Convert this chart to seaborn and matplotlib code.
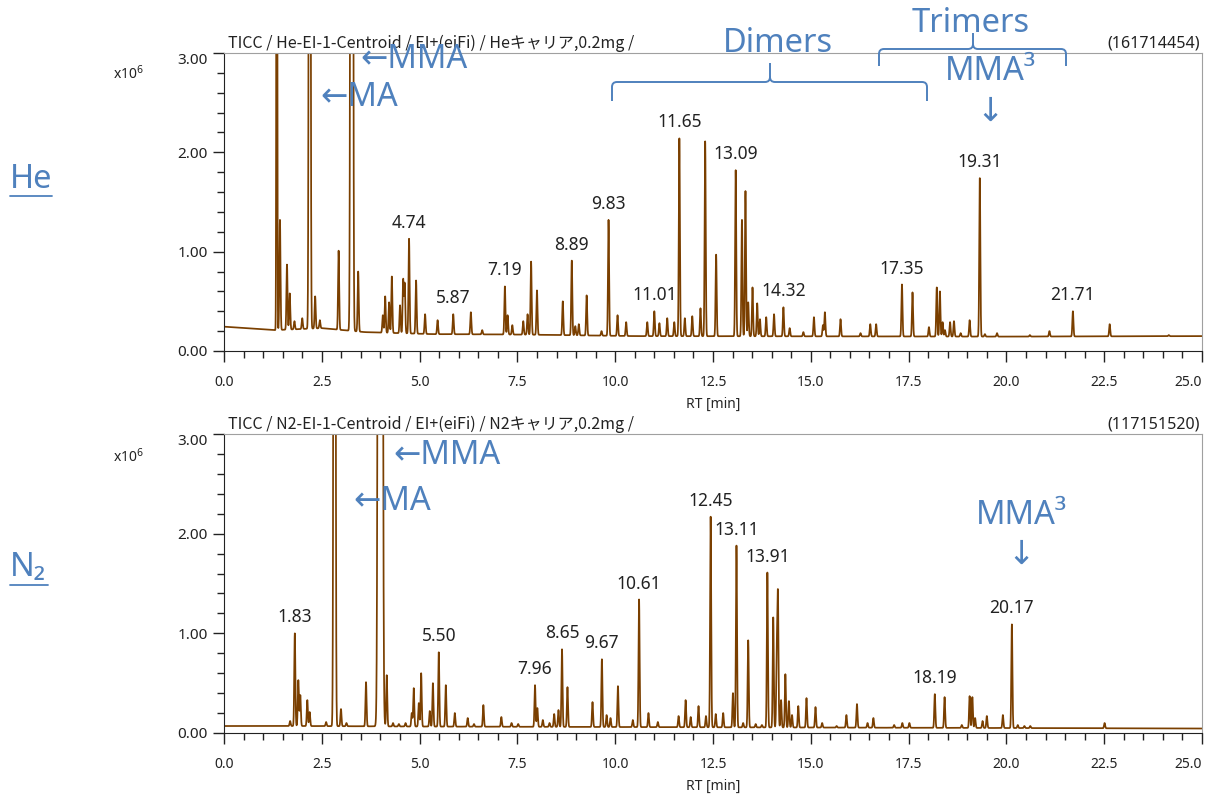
import numpy as np
import matplotlib
matplotlib.use('Agg')
import matplotlib.pyplot as plt
from matplotlib.lines import Line2D
from matplotlib.path import Path
from matplotlib.patches import PathPatch
import seaborn as sns

sns.set_style('ticks')
plt.rcParams['font.family'] = ['Noto Sans', 'Noto Sans CJK JP', 'DejaVu Sans']

# --- data (RT in min, intensity in x10^6) ---
# He carrier
he_base_rt = [0, 1.3, 2.5, 3.6, 5.3, 7.7, 10.5, 20, 25]
he_base_i = [0.245, 0.21, 0.23, 0.19, 0.17, 0.165, 0.15, 0.145, 0.15]
he_rt = [1.43, 1.61, 1.68, 1.80, 2.00, 2.33, 2.45, 2.93, 3.43, 4.06, 4.12, 4.22, 4.29,
         4.50, 4.58, 4.62, 4.73, 4.91, 5.14, 5.46, 5.86, 6.31, 6.60, 7.18, 7.25, 7.37,
         7.65, 7.76, 7.85, 8.00, 8.66, 8.89, 8.98, 9.07, 9.27, 9.65, 9.83, 10.06, 10.28,
         10.82, 11.00, 11.13, 11.33, 11.51, 11.64, 11.78, 11.97, 12.18, 12.30, 12.58,
         13.08, 13.24, 13.33, 13.40, 13.51, 13.63, 13.70, 13.86, 14.06, 14.30, 14.46,
         14.81, 15.08, 15.31, 15.36, 15.76, 16.27, 16.52, 16.67, 17.33, 17.60, 18.02,
         18.22, 18.30, 18.37, 18.43, 18.56, 18.66, 18.83, 19.06, 19.32, 19.45, 19.76,
         20.60, 21.10, 21.70, 22.64, 24.15]
he_int = [1.32, 0.87, 0.58, 0.30, 0.33, 0.55, 0.31, 1.01, 0.80, 0.36, 0.55, 0.49, 0.75,
          0.46, 0.72, 0.68, 1.13, 0.71, 0.37, 0.31, 0.37, 0.39, 0.21, 0.65, 0.36, 0.26,
          0.30, 0.37, 0.90, 0.61, 0.50, 0.91, 0.25, 0.27, 0.56, 0.20, 1.32, 0.36, 0.29,
          0.29, 0.40, 0.28, 0.33, 0.29, 2.14, 0.33, 0.35, 0.43, 2.11, 0.97,
          1.82, 1.32, 1.61, 0.49, 0.64, 0.48, 0.32, 0.34, 0.37, 0.44, 0.23,
          0.19, 0.34, 0.26, 0.39, 0.32, 0.18, 0.27, 0.27, 0.67, 0.59, 0.24,
          0.64, 0.60, 0.29, 0.21, 0.29, 0.30, 0.18, 0.31, 1.74, 0.17, 0.18,
          0.16, 0.20, 0.40, 0.27, 0.16]
# off-scale peaks: solvent, MA, MMA
he_big_rt = [1.35, 2.19, 3.265]
he_big_int = [10.0, 15.0, 40.0]
he_big_sig = [0.010, 0.017, 0.020]
he_labels = [4.74, 5.87, 7.19, 8.89, 9.83, 11.01, 11.65, 13.09, 14.32, 17.35, 19.31, 21.71]

# N2 carrier
n2_base_rt = [0, 2, 5, 10, 15, 20, 25]
n2_base_i = [0.07, 0.07, 0.065, 0.06, 0.055, 0.05, 0.045]
n2_rt = [1.69, 1.81, 1.90, 1.95, 2.13, 2.19, 2.61, 2.99, 3.13, 3.63, 4.16, 4.32, 4.47,
         4.64, 4.80, 4.85, 4.98, 5.04, 5.26, 5.34, 5.49, 5.67, 5.90, 6.23, 6.39, 6.63,
         7.09, 7.35, 7.52, 7.95, 8.01, 8.15, 8.32, 8.44, 8.55, 8.64, 8.78, 9.42, 9.66,
         9.78, 9.88, 10.07, 10.45, 10.61, 10.85, 11.09, 11.62, 11.80, 11.93, 12.13,
         12.32, 12.44, 12.57, 12.76, 13.01, 13.10, 13.27, 13.40, 13.59, 13.75, 13.89,
         14.04, 14.13, 14.16, 14.24, 14.35, 14.44, 14.52, 14.68, 14.89, 15.12, 15.29,
         15.66, 15.91, 16.18, 16.45, 16.60, 17.13, 17.34, 17.52, 18.17, 18.42, 18.86,
         19.06, 19.13, 19.20, 19.39, 19.50, 19.91, 20.14, 20.29, 20.46, 20.61, 22.51]
n2_int = [0.12, 1.00, 0.53, 0.38, 0.33, 0.21, 0.11, 0.24, 0.10, 0.51, 0.58, 0.10, 0.09,
          0.10, 0.20, 0.45, 0.30, 0.60, 0.22, 0.50, 0.81, 0.48, 0.20, 0.15, 0.09, 0.28,
          0.16, 0.10, 0.09, 0.48, 0.25, 0.13, 0.10, 0.19, 0.23, 0.84, 0.46, 0.31, 0.74,
          0.18, 0.15, 0.47, 0.13, 1.34, 0.20, 0.11, 0.17, 0.33, 0.16, 0.27,
          0.17, 2.17, 0.19, 0.20, 0.40, 1.88, 0.10, 0.93, 0.09, 0.08, 1.61,
          1.16, 0.78, 1.36, 0.33, 0.59, 0.32, 0.18, 0.27, 0.35, 0.26, 0.10,
          0.07, 0.18, 0.29, 0.10, 0.15, 0.08, 0.10, 0.10, 0.39, 0.36, 0.08,
          0.37, 0.36, 0.15, 0.12, 0.17, 0.18, 1.09, 0.08, 0.07, 0.07, 0.10]
n2_big_rt = [2.825, 3.995]
n2_big_int = [20.0, 60.0]
n2_big_sig = [0.018, 0.031]
n2_labels = [1.83, 5.50, 7.96, 8.65, 9.67, 10.61, 12.45, 13.11, 13.91, 18.19, 20.17]

LINE = '#7a3f00'
BLUE = '#4f81bd'
W, H = 1210, 795


def build_trace(base_rt, base_i, rt, inten, big_rt, big_int, big_sig, sig=0.014):
    x = np.arange(0, 25.0001, 0.002)
    base = np.interp(x, base_rt, base_i)
    y = base.copy()
    for r, h in zip(rt, inten):
        amp = h - np.interp(r, base_rt, base_i)
        y += amp * np.exp(-0.5 * ((x - r) / sig) ** 2)
    for r, h, s in zip(big_rt, big_int, big_sig):
        y += h * np.exp(-0.5 * ((x - r) / s) ** 2)
    return x, y


def fx(px):
    return px / W


def fy(py):
    return 1 - py / H


fig = plt.figure(figsize=(12.1, 7.95), dpi=100)
ax_he = fig.add_axes([fx(224), fy(351), fx(1202) - fx(224), fy(53) - fy(351)])
ax_n2 = fig.add_axes([fx(224), fy(733), fx(1202) - fx(224), fy(434) - fy(733)])

panels = [
    (ax_he, he_base_rt, he_base_i, he_rt, he_int, he_big_rt, he_big_int, he_big_sig, he_labels,
     'TICC / He-EI-1-Centroid / EI+(eiFi) / Heキャリア,0.2mg /', '(161714454)'),
    (ax_n2, n2_base_rt, n2_base_i, n2_rt, n2_int, n2_big_rt, n2_big_int, n2_big_sig, n2_labels,
     'TICC / N2-EI-1-Centroid / EI+(eiFi) / N2キャリア,0.2mg /', '(117151520)'),
]

for ax, brt, bi, rt, inten, big_rt, big_int, big_sig, labels, title, total in panels:
    x, y = build_trace(brt, bi, rt, inten, big_rt, big_int, big_sig)
    sns.lineplot(x=x, y=y, ax=ax, color=LINE, linewidth=1.25, estimator=None, sort=False)
    ax.set_xlim(0, 25)
    ax.set_ylim(0, 3.0)
    ax.set_xticks(np.arange(0, 25.01, 2.5))
    ax.set_xticks(np.arange(0, 25.01, 0.5), minor=True)
    ax.set_yticks([0, 1, 2, 3])
    ax.set_yticks(np.arange(0, 3.01, 0.2), minor=True)
    ax.set_xticklabels([f'{v:.1f}' for v in np.arange(0, 25.01, 2.5)], fontsize=10)
    ax.get_xticklabels()[-1].set_ha('right')
    ax.set_yticklabels(['0.00', '1.00', '2.00', '3.00'], fontsize=11)
    ax.get_yticklabels()[-1].set_va('top')
    ax.tick_params(axis='both', which='major', length=8, width=1, direction='out', colors='#222222')
    ax.tick_params(axis='both', which='minor', length=5, width=1, direction='out', colors='#222222')
    ax.tick_params(axis='x', which='major', pad=9)
    for s in ['top', 'right']:
        ax.spines[s].set_color('#a0a0a0')
    for s in ['left', 'bottom']:
        ax.spines[s].set_color('#222222')
    ax.set_xlabel('RT [min]', fontsize=10, labelpad=5)
    ax.set_ylabel('')
    ax.text(0.004, 1.004, title, transform=ax.transAxes, ha='left', va='bottom',
            fontsize=11.5, family=['Noto Sans CJK JP'], color='#222222')
    ax.text(0.998, 1.004, total, transform=ax.transAxes, ha='right', va='bottom',
            fontsize=11.5, color='#222222')
    # peak labels at the local maxima of the trace
    for lab in labels:
        win = (x > lab - 0.06) & (x < lab + 0.06)
        k = np.argmax(y[win])
        ax.annotate(f'{lab:.2f}', (x[win][k], y[win][k]), xytext=(0, 5),
                    textcoords='offset points', ha='center', va='bottom',
                    fontsize=12.5, color='#222222')

# exponent labels
for py in [74, 457]:
    fig.text(fx(113), fy(py), 'x10$^{6}$', fontsize=10, ha='left', va='center', color='#222222')

# blue annotations
blue_kw = dict(color=BLUE, fontsize=23.5, family=['Noto Sans', 'DejaVu Sans'])
fig.text(fx(360), fy(60), '←MMA', ha='left', va='center', **blue_kw)
fig.text(fx(320), fy(98), '←MA', ha='left', va='center', **blue_kw)
fig.text(fx(778), fy(44), 'Dimers', ha='center', va='center', **blue_kw)
fig.text(fx(971), fy(23), 'Trimers', ha='center', va='center', **blue_kw)
fig.text(fx(990), fy(72), 'MMA³', ha='center', va='center', **blue_kw)
fig.text(fx(990), fy(112), '↓', ha='center', va='center', **blue_kw)
fig.text(fx(393), fy(456), '←MMA', ha='left', va='center', **blue_kw)
fig.text(fx(353), fy(502), '←MA', ha='left', va='center', **blue_kw)
fig.text(fx(1021), fy(515), 'MMA³', ha='center', va='center', **blue_kw)
fig.text(fx(1021), fy(555), '↓', ha='center', va='center', **blue_kw)

# carrier gas labels with underline
fig.text(fx(10), fy(180), 'He', ha='left', va='center', **blue_kw)
fig.add_artist(Line2D([fx(10), fx(52)], [fy(196), fy(196)], color=BLUE, lw=1.3))
fig.text(fx(10), fy(568), 'N₂', ha='left', va='center', **blue_kw)
fig.add_artist(Line2D([fx(10), fx(48)], [fy(585), fy(585)], color=BLUE, lw=1.3))


def brace(x0, x1, xc, y_end, y_bar, y_tip):
    r = 5
    verts = [(x0, y_end), (x0, y_bar + r), (x0, y_bar), (x0 + r, y_bar),
             (xc - r, y_bar), (xc, y_bar), (xc, y_bar - r), (xc, y_tip),
             (xc, y_bar - r), (xc, y_bar), (xc + r, y_bar),
             (x1 - r, y_bar), (x1, y_bar), (x1, y_bar + r), (x1, y_end)]
    codes = [Path.MOVETO, Path.LINETO, Path.CURVE3, Path.CURVE3,
             Path.LINETO, Path.CURVE3, Path.CURVE3, Path.LINETO,
             Path.MOVETO, Path.CURVE3, Path.CURVE3,
             Path.LINETO, Path.CURVE3, Path.CURVE3, Path.LINETO]
    verts = [(fx(a), fy(b)) for a, b in verts]
    fig.add_artist(PathPatch(Path(verts, codes), transform=fig.transFigure,
                             fill=False, edgecolor=BLUE, lw=1.4))


brace(612, 927, 770, 101, 82, 63)
brace(879, 1066, 973, 66, 49, 33)

fig.savefig('out.png', dpi=100)
